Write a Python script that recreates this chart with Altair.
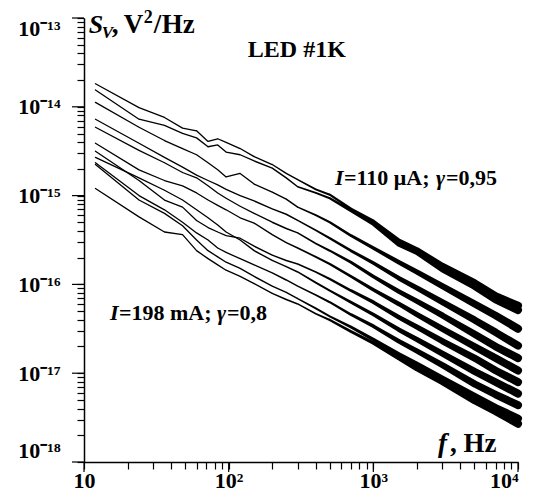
import altair as alt
import pandas as pd

# ---------------- data ----------------
# frequency grid, Hz
FREQ = [12, 24, 36, 48, 60, 72, 84, 96, 120, 150, 200, 250, 300, 400, 500,
        700, 1000, 1500, 2000, 3000, 5000, 7000, 10000]

# log10(S_V / (V^2/Hz)) of each spectrum, top curve first
LOG_SV = {
    "c01": [-13.74, -14.01, -14.12, -14.24, -14.27, -14.39, -14.36, -14.40, -14.47, -14.56, -14.65, -14.75,
            -14.82, -14.93, -14.99, -15.15, -15.29, -15.51, -15.61, -15.79, -15.98, -16.13, -16.24],
    "c02": [-13.81, -14.14, -14.21, -14.30, -14.35, -14.45, -14.43, -14.51, -14.54, -14.61, -14.69, -14.80,
            -14.90, -14.97, -15.03, -15.17, -15.32, -15.55, -15.64, -15.83, -16.02, -16.17, -16.29],
    "c03": [-13.95, -14.23, -14.38, -14.47, -14.54, -14.63, -14.71, -14.79, -14.75, -14.87, -14.96, -15.04,
            -15.13, -15.22, -15.30, -15.45, -15.59, -15.75, -15.86, -16.02, -16.22, -16.35, -16.50],
    "c04": [-14.14, -14.41, -14.57, -14.68, -14.77, -14.83, -14.88, -14.93, -15.00, -15.06, -15.15, -15.21,
            -15.28, -15.39, -15.48, -15.62, -15.76, -15.93, -16.04, -16.20, -16.40, -16.54, -16.69],
    "c05": [-14.23, -14.49, -14.63, -14.74, -14.80, -14.89, -14.97, -15.03, -15.12, -15.20, -15.30, -15.37,
            -15.42, -15.54, -15.62, -15.75, -15.91, -16.08, -16.19, -16.35, -16.56, -16.70, -16.83],
    "c06": [-14.41, -14.71, -14.83, -14.89, -14.97, -15.05, -15.11, -15.16, -15.25, -15.31, -15.44, -15.53,
            -15.59, -15.69, -15.77, -15.91, -16.06, -16.22, -16.34, -16.50, -16.70, -16.83, -16.97],
    "c07": [-14.50, -14.83, -15.05, -15.13, -15.28, -15.36, -15.41, -15.45, -15.48, -15.57, -15.67, -15.73,
            -15.77, -15.86, -15.94, -16.07, -16.20, -16.37, -16.48, -16.64, -16.83, -16.97, -17.10],
    "c08": [-14.57, -14.80, -14.94, -15.05, -15.16, -15.25, -15.33, -15.41, -15.50, -15.62, -15.73, -15.80,
            -15.86, -15.98, -16.07, -16.20, -16.34, -16.51, -16.62, -16.78, -16.98, -17.10, -17.23],
    "c09": [-14.63, -15.00, -15.16, -15.30, -15.42, -15.50, -15.59, -15.64, -15.71, -15.78, -15.87, -15.95,
            -16.02, -16.12, -16.20, -16.34, -16.47, -16.64, -16.75, -16.91, -17.12, -17.24, -17.36],
    "c10": [-14.65, -15.05, -15.20, -15.34, -15.50, -15.62, -15.69, -15.75, -15.82, -15.91, -16.02, -16.09,
            -16.16, -16.27, -16.36, -16.48, -16.62, -16.79, -16.90, -17.06, -17.26, -17.39, -17.51],
    "c11": [-14.92, -15.24, -15.41, -15.44, -15.62, -15.71, -15.78, -15.84, -15.91, -15.99, -16.10, -16.17,
            -16.22, -16.33, -16.40, -16.53, -16.66, -16.83, -16.95, -17.10, -17.31, -17.43, -17.57],
}

X_TICK_LABELS = {10: "10", 100: "10²", 1000: "10³", 10000: "10⁴"}
Y_TICK_LABELS = {-13: "10⁻¹³", -14: "10⁻¹⁴", -15: "10⁻¹⁵", -16: "10⁻¹⁶", -17: "10⁻¹⁷", -18: "10⁻¹⁸"}

# text annotations: anchor in data coordinates (f, S)
ANCHORS = {
    "ytitle": (10.8, 6.78e-14),
    "led": (296, 3.63e-14),
    "low": (543, 1.31e-15),
    "high": (15.1, 3.94e-17),
    "xtitle": (2884, 1.28e-18),
}

# ---------------- style ----------------
SERIF = "Liberation Serif"
# visual thickness of the noise band along each spectrum, px (one per FREQ)
BAND_PX = [1.3, 1.3, 1.3, 1.3, 1.3, 1.3, 1.3, 1.3, 1.3, 1.4, 1.4, 1.5, 1.5, 1.8, 2.2,
           2.8, 3.5, 4.5, 5.2, 6.0, 7.0, 7.5, 8.0]

# (anchor, text, dx, dy, size, italic, align)
PIECES = [
    ("ytitle", "S", 0, 0, 26, True, "left"),
    ("ytitle", "V", 13, 5, 17, True, "left"),
    ("ytitle", ",", 23, 0, 27, False, "left"),
    ("ytitle", "V", 35, 0, 27, False, "left"),
    ("ytitle", "2", 55, -10, 18, False, "left"),
    ("ytitle", "/", 65, 0, 27, False, "left"),
    ("ytitle", "Hz", 73, 0, 27, False, "left"),
    ("led", "LED #1K", 0, 0, 24, False, "center"),
    ("low", "I", 0, 0, 22, True, "left"),
    ("low", "=110 μA;", 9, 0, 22, False, "left"),
    ("low", "γ", 101, 0, 22, True, "left"),
    ("low", "=0,95", 111, 0, 22, False, "left"),
    ("high", "I", 0, 0, 22, True, "left"),
    ("high", "=198 mA;", 9, 0, 22, False, "left"),
    ("high", "γ", 107, 0, 22, True, "left"),
    ("high", "=0,8", 117, 0, 22, False, "left"),
    ("xtitle", "f", -2, 0, 27, True, "left"),
    ("xtitle", ", Hz", 10, 0, 27, False, "left"),
]

MAJOR_TICK_PX = 12
MINOR_TICK_PX = 7

# ---------------- build ----------------
rows = []
for name, vals in LOG_SV.items():
    for i, (f, v) in enumerate(zip(FREQ, vals)):
        rows.append({"curve": name, "i": i, "f": f, "S": 10.0 ** v, "w": BAND_PX[i]})
df = pd.DataFrame(rows)

x_decades = sorted(X_TICK_LABELS)
y_decades = [10.0 ** k for k in sorted(Y_TICK_LABELS)]
x_ticks = [k * 10 ** e for e in (1, 2, 3) for k in range(1, 10)] + [10000]
y_ticks = [k * 10.0 ** e for e in (-18, -17, -16, -15, -14) for k in range(1, 10)] + [1e-13]

major = "abs(log(datum.value)/LN10 - round(log(datum.value)/LN10)) < 0.01"


def chain(mapping, key):
    expr = "''"
    for k, lab in mapping.items():
        expr = f"({key} == {k} ? '{lab}' : {expr})"
    return expr


x_label_expr = f"({major}) ? " + chain(X_TICK_LABELS, "round(datum.value)") + " : ''"
y_label_expr = f"({major}) ? " + chain(Y_TICK_LABELS, "round(log(datum.value)/LN10)") + " : ''"

common_axis = dict(
    title=None, grid=False, domainColor="black", domainWidth=1.5,
    tickColor="black", tickWidth=1.2, tickSize=MINOR_TICK_PX,
    labelFont=SERIF, labelFontWeight="bold", labelFontSize=22, labelColor="black",
    labelOverlap=False, labelBound=False,
)

x_axis = alt.Axis(values=x_ticks, labelExpr=x_label_expr, labelPadding=1, labelFlush=False,
                  labelAlign={"condition": {"test": "datum.value >= 9999", "value": "right"},
                              "value": "center"},
                  **common_axis)
y_axis = alt.Axis(values=y_ticks, labelExpr=y_label_expr, labelPadding=17, labelFlush=True,
                  **common_axis)

x_scale = alt.Scale(type="log", domain=[10, 10000], nice=False)
y_scale = alt.Scale(type="log", domain=[1e-18, 1e-13], nice=False)

X = alt.X("f:Q", scale=x_scale, axis=x_axis)
Y = alt.Y("S:Q", scale=y_scale, axis=y_axis)

spectra = alt.Chart(df).mark_trail(color="black").encode(
    x=X, y=Y,
    size=alt.Size("w:Q", scale=None, legend=None),
    detail="curve:N",
    order="i:Q",
)

# longer ticks at the decades
y_major = alt.Chart(pd.DataFrame({"S": y_decades})).mark_rule(
    color="black", strokeWidth=1.2, x2Offset=-MAJOR_TICK_PX
).encode(y=Y, x=alt.value(0), x2=alt.value(0))
x_major = alt.Chart(pd.DataFrame({"f": x_decades})).mark_rule(
    color="black", strokeWidth=1.2, y2Offset=MAJOR_TICK_PX - 2
).encode(x=X, y=alt.value("height"), y2=alt.value("height"))

layers = [spectra, y_major, x_major]
for anchor, text, dx, dy, size, italic, align in PIECES:
    f, s = ANCHORS[anchor]
    tdf = pd.DataFrame({"f": [f], "S": [s], "t": [text]})
    kw = dict(align=align, baseline="alphabetic", dx=dx, dy=dy, font=SERIF,
              fontSize=size, fontWeight="bold", color="black")
    if italic:
        kw["fontStyle"] = "italic"
    layers.append(alt.Chart(tdf).mark_text(**kw).encode(x=X, y=Y, text="t:N"))

chart = alt.layer(*layers).properties(
    width=434, height=444,
    autosize=alt.AutoSizeParams(type="none"),
    padding={"left": 76, "top": 10, "right": 7, "bottom": 29},
    background="white",
).configure_view(stroke=None)

chart.save("out.html", embed_options={"renderer": "svg", "actions": False})
